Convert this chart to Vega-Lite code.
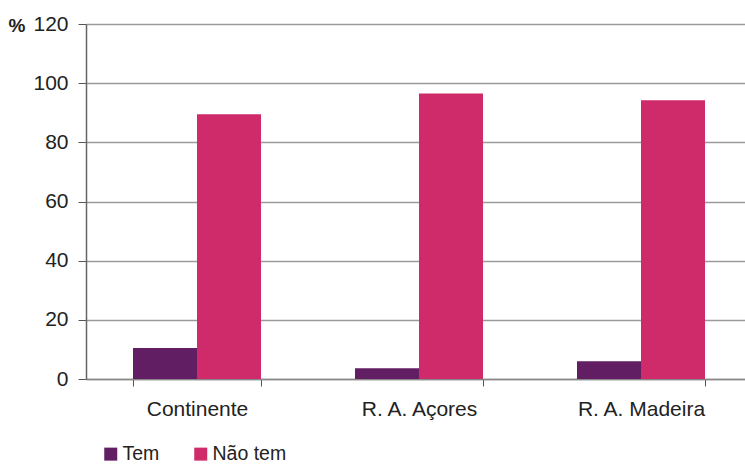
{
  "$schema": "https://vega.github.io/schema/vega-lite/v6.json",
  "width": 666,
  "height": 355,
  "autosize": {"type": "none"},
  "padding": {"left": 86, "top": 24, "right": 0, "bottom": 85},
  "background": "white",
  "config": {"view": {"stroke": null}, "font": "Liberation Sans"},
  "data": {"values": [
    {"region": "Continente", "serie": "Tem", "valor": 10.5},
    {"region": "Continente", "serie": "Não tem", "valor": 89.5},
    {"region": "R. A. Açores", "serie": "Tem", "valor": 3.6},
    {"region": "R. A. Açores", "serie": "Não tem", "valor": 96.5},
    {"region": "R. A. Madeira", "serie": "Tem", "valor": 6.0},
    {"region": "R. A. Madeira", "serie": "Não tem", "valor": 94.2}
  ]},
  "mark": {"type": "bar"},
  "encoding": {
    "x": {
      "field": "region", "type": "nominal", "sort": null,
      "scale": {"paddingInner": 0.4234, "paddingOuter": 0.2117},
      "axis": {"title": null, "labelAngle": 0, "labelFontSize": 21, "labelColor": "#222", "labelPadding": 12,
               "tickBand": "extent", "tickSize": 7, "tickColor": "#555", "domainColor": "#888", "domainWidth": 1.5, "grid": false}
    },
    "xOffset": {"field": "serie", "type": "nominal", "sort": ["Tem", "Não tem"], "scale": {"paddingInner": 0, "paddingOuter": 0}},
    "y": {
      "field": "valor", "type": "quantitative",
      "scale": {"domain": [0, 120], "nice": false},
      "axis": {"values": [0, 20, 40, 60, 80, 100, 120], "title": "%", "titleAngle": 0, "titleFontSize": 19, "titleFontWeight": "bold",
               "titleColor": "#222", "titleX": -78, "titleY": 1, "titleAlign": "left", "titleBaseline": "middle",
               "labelFontSize": 21, "labelColor": "#222", "labelPadding": 10, "tickSize": 8, "tickColor": "#555",
               "domainColor": "#666", "domainWidth": 1.5, "gridColor": "#9a9a9a", "gridWidth": 1.5}
    },
    "color": {
      "field": "serie", "type": "nominal", "sort": ["Tem", "Não tem"],
      "scale": {"domain": ["Tem", "Não tem"], "range": ["#621e62", "#cf2a69"]},
      "legend": {"title": null, "orient": "none", "legendX": 15, "legendY": 420, "direction": "horizontal",
                 "symbolType": "square", "symbolSize": 169, "symbolStrokeWidth": 0, "labelFontSize": 19.5, "labelColor": "#222",
                 "labelOffset": 2, "columnPadding": 31}
    }
  }
}
